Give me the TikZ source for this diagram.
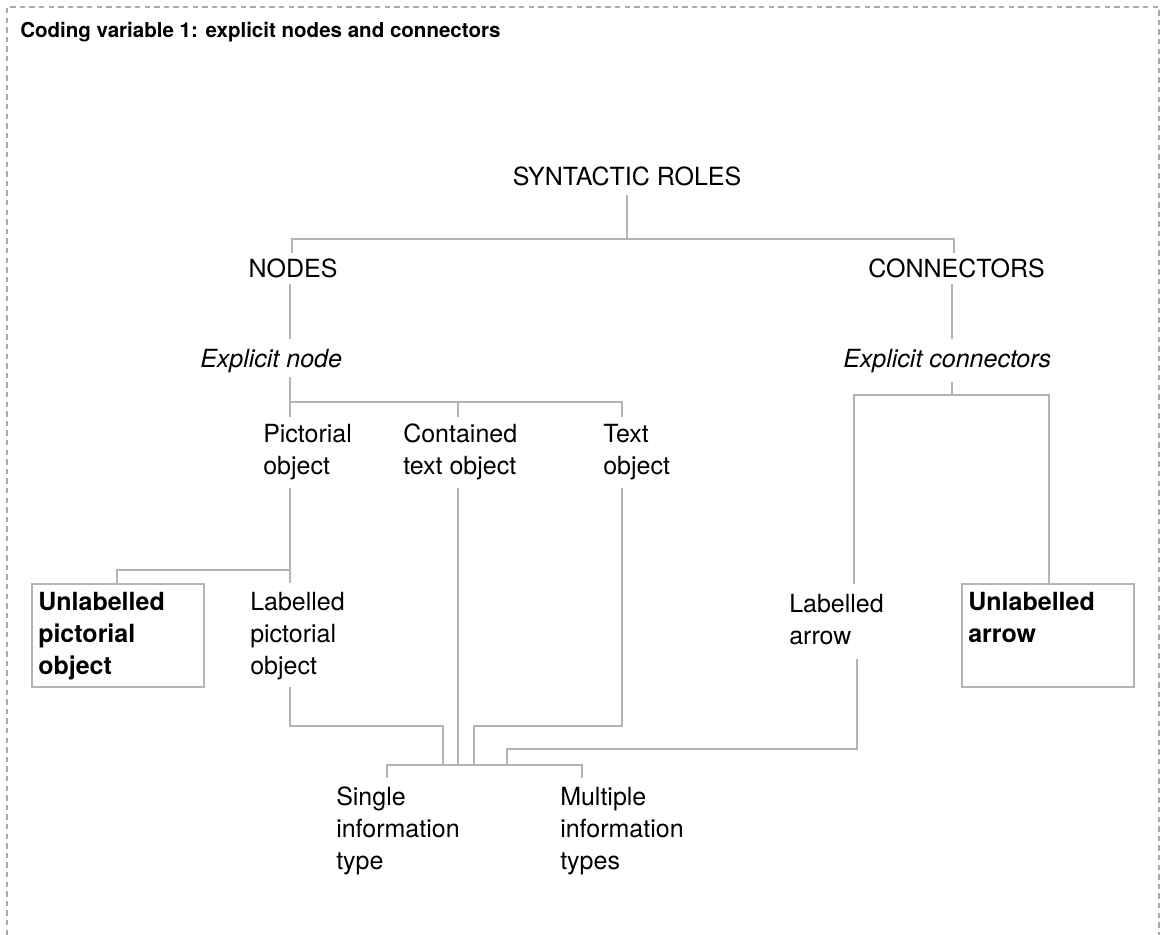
\documentclass[tikz,border=0pt]{standalone}
\usepackage{fontspec}
\setmainfont{TeX Gyre Heros}
\newcommand\bodyfont{\fontsize{18.75}{24}\selectfont}
\newcommand\titlefont{\fontsize{15.4}{18}\selectfont\bfseries}
\definecolor{linegray}{HTML}{B4B4B4}
\definecolor{framegray}{HTML}{AAAAAA}
\tikzset{
  lbl/.style={inner sep=0pt, anchor=base west, font=\bodyfont},
  ctr/.style={inner sep=0pt, anchor=base, font=\bodyfont},
  conn/.style={draw=linegray, line width=1.1pt},
  boxed/.style={draw=linegray, line width=1.1pt},
  frame/.style={draw=framegray, line width=0.9pt, dash pattern=on 4pt off 3.2pt}
}
\newcommand\ml[1]{\begin{tabular}[t]{@{}l@{}}#1\end{tabular}}
\begin{document}
\begin{tikzpicture}[x=0.75pt,y=-0.75pt]
\useasboundingbox (0,0) rectangle (1160,935);
% frame
\draw[frame] (7,935) -- (7,7) -- (1159,7) -- (1159,935);
% title
\node[inner sep=0pt, anchor=base west, font=\titlefont] (title) at (20,37) {Coding variable 1: explicit nodes and connectors};
% texts
\node[ctr] (root) at (627,185) {SYNTACTIC ROLES};
\node[ctr] (nodes) at (293,277) {NODES};
\node[lbl] (conns) at (868,277) {CONNECTORS};
\node[lbl, font=\bodyfont\itshape] (expnode) at (200,367) {Explicit node};
\node[lbl, font=\bodyfont\itshape] (expconn) at (843,367) {Explicit connectors};
\node[lbl] (pict) at (263,442) {\ml{Pictorial\\object}};
\node[lbl] (cont) at (403,442) {\ml{Contained\\text object}};
\node[lbl] (textobj) at (603,442) {\ml{Text\\object}};
\node[lbl, font=\bodyfont\bfseries] (unpict) at (38,610) {\ml{Unlabelled\\pictorial\\object}};
\node[lbl] (labpict) at (250,610) {\ml{Labelled\\pictorial\\object}};
\node[lbl] (labarrow) at (789,612) {\ml{Labelled\\arrow}};
\node[lbl, font=\bodyfont\bfseries] (unarrow) at (968,610) {\ml{Unlabelled\\arrow}};
\node[lbl] (single) at (336,805) {\ml{Single\\information\\type}};
\node[lbl] (multi) at (560,805) {\ml{Multiple\\information\\types}};
% boxes
\draw[boxed] (32,584) rectangle (204,687);
\draw[boxed] (962,584) rectangle (1134,687);
% junction coordinates
\coordinate (rootB) at (627,195);
\coordinate (rootJ) at (627,239);
\coordinate (nodesT) at (292,253);
\coordinate (connsT) at (954,253);
\coordinate (nodesB) at (290,284);
\coordinate (expnodeT) at (290,339);
\coordinate (connsB) at (952,284);
\coordinate (expconnT) at (952,339);
\coordinate (expnodeB) at (290,377);
\coordinate (pictT) at (290,417);
\coordinate (contT) at (458,417);
\coordinate (textT) at (622,417);
\coordinate (pictB) at (290,488);
\coordinate (labpictT) at (290,583);
\coordinate (unpictT) at (117,584);
\coordinate (contB) at (458,488);
\coordinate (textB) at (622,488);
\coordinate (labpictB) at (290,687);
\coordinate (expconnB) at (952,382);
\coordinate (labarrowT) at (854,584);
\coordinate (unarrowT) at (1049,584);
\coordinate (labarrowB) at (857,659);
\coordinate (botJ) at (458,765);
\coordinate (singleT) at (387,778);
\coordinate (multiT) at (582,778);
% connectors
\draw[conn] (rootB) -- (rootJ);
\draw[conn] (nodesT) -- (292,239) -- (954,239) -- (connsT);
\draw[conn] (nodesB) -- (expnodeT);
\draw[conn] (connsB) -- (expconnT);
\draw[conn] (expnodeB) -- (290,402);
\draw[conn] (pictT) -- (290,402) -- (622,402) -- (textT);
\draw[conn] (contT) -- (458,402);
\draw[conn] (pictB) -- (labpictT);
\draw[conn] (290,570) -- (117,570) -- (unpictT);
\draw[conn] (contB) -- (botJ);
\draw[conn] (textB) -- (622,726) -- (474,726) -- (474,765);
\draw[conn] (labpictB) -- (290,726) -- (443,726) -- (443,765);
\draw[conn] (expconnB) -- (952,395);
\draw[conn] (labarrowT) -- (854,395) -- (1049,395) -- (unarrowT);
\draw[conn] (labarrowB) -- (857,749) -- (507,749) -- (507,765);
\draw[conn] (singleT) -- (387,765) -- (582,765) -- (multiT);
\end{tikzpicture}
\end{document}
